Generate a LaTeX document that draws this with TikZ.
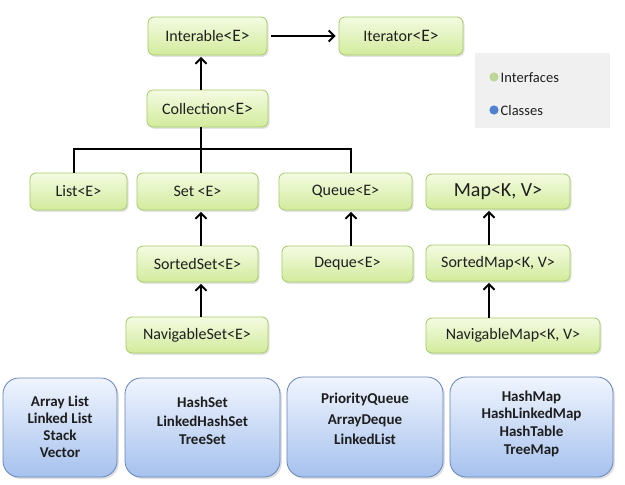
\documentclass[tikz,border=0pt]{standalone}
\usepackage{fontspec}
\setmainfont{Carlito}
\usetikzlibrary{arrows.meta,shadows}
\definecolor{ifTop}{HTML}{F4FBE2}
\definecolor{ifBot}{HTML}{D2EB9C}
\definecolor{ifBorder}{HTML}{A3CB66}
\definecolor{clTop}{HTML}{F0F5FE}
\definecolor{clBot}{HTML}{A6C1EE}
\definecolor{clBorder}{HTML}{6585BD}
\definecolor{legBg}{HTML}{F0F0F0}
\definecolor{dotGreen}{HTML}{BDD796}
\definecolor{dotBlue}{HTML}{4F81D0}
\definecolor{txt}{HTML}{1E1E1E}
\tikzset{
  iface/.style={draw=ifBorder, line width=0.8pt, rounded corners=6pt,
    top color=ifTop, bottom color=ifBot, inner sep=0pt, text=txt,
    font=\fontsize{16}{18}\selectfont,
    drop shadow={opacity=0.22, shadow xshift=1.5pt, shadow yshift=-1.8pt}},
  cls/.style={draw=clBorder, line width=0.8pt, rounded corners=16pt,
    top color=clTop, bottom color=clBot, inner sep=0pt,
    drop shadow={opacity=0.25, shadow xshift=1.8pt, shadow yshift=-2pt}},
  clstext/.style={inner sep=0pt, text=txt, align=center},
  conn/.style={line width=2.3pt, draw=black, line join=miter},
  arr/.style={conn, -{Straight Barb[length=5.5pt,width=11pt,line width=2pt]}},
  legtxt/.style={anchor=west, inner sep=0pt, text=txt, font=\fontsize{14.5}{16}\selectfont}
}
\newcommand{\bigE}{{\fontsize{17.5}{20}\selectfont <E>}}
\newcommand{\clsfont}[1]{\bfseries\fontsize{15}{#1}\selectfont}
\begin{document}
\begin{tikzpicture}[x=1pt,y=-1pt]
\useasboundingbox (0,0) rectangle (625,485);
\fill[white] (0,0) rectangle (625,485);

% legend
\node[fill=legBg, minimum width=135pt, minimum height=75pt, inner sep=0pt] (legend) at (542.5,90.5) {};
\fill[dotGreen] (494,77) circle (4.6pt);
\fill[dotBlue] (494,110) circle (4.6pt);
\node[legtxt] (lint) at (500.5,78) {Interfaces};
\node[legtxt] (lcls) at (500.5,111) {Classes};

% interfaces
\node[iface, minimum width=119pt, minimum height=38pt] (inter) at (207.5,36) {Interable\bigE};
\node[iface, minimum width=124pt, minimum height=38pt] (iter) at (401,36) {Iterator\bigE};
\node[iface, minimum width=121pt, minimum height=37pt] (coll) at (207.5,108.5) {Collection\bigE};
\node[iface, minimum width=97pt, minimum height=37pt] (list) at (78.5,191.5) {List<E>};
\node[iface, minimum width=121pt, minimum height=37pt] (set) at (197.5,191.5) {Set <E>};
\node[iface, minimum width=133pt, minimum height=37pt] (queue) at (345.5,191.5) {Queue<E>};
\node[iface, minimum width=144pt, minimum height=35pt] (map) at (498,191.5) {\fontsize{20}{22}\selectfont Map<K, V>};
\node[iface, minimum width=121pt, minimum height=36pt] (sset) at (197.5,264) {SortedSet<E>};
\node[iface, minimum width=131pt, minimum height=36pt] (deque) at (347.5,264) {Deque<E>};
\node[iface, minimum width=144pt, minimum height=36pt] (smap) at (498,263) {SortedMap<K, V>};
\node[iface, minimum width=142pt, minimum height=36pt] (nset) at (197,335) {NavigableSet<E>};
\node[iface, minimum width=174pt, minimum height=35pt] (nmap) at (513,335.5) {NavigableMap<K, V>};

% classes
\node[cls, minimum width=114pt, minimum height=99pt] (c1) at (60,427.5) {};
\node[cls, minimum width=155pt, minimum height=99pt] (c2) at (202.5,427.5) {};
\node[cls, minimum width=156pt, minimum height=100pt] (c3) at (365,427) {};
\node[cls, minimum width=163pt, minimum height=100pt] (c4) at (531.5,427) {};
\node[clstext, font=\clsfont{17}] (c1t) at ([yshift=1pt]c1.center) {Array List\\Linked List\\Stack\\Vector};
\node[clstext, font=\clsfont{18.5}] (c2t) at ([yshift=6.5pt]c2.center) {HashSet\\LinkedHashSet\\TreeSet};
\node[clstext, font=\clsfont{20.5}] (c3t) at ([yshift=8pt]c3.center) {PriorityQueue\\ArrayDeque\\LinkedList};
\node[clstext, font=\clsfont{17.7}] (c4t) at ([yshift=3.5pt]c4.center) {HashMap\\HashLinkedMap\\HashTable\\TreeMap};

% guide coordinates
\coordinate (tr) at (201,0);
\coordinate (lx) at (74,0);
\coordinate (qx) at (351,0);
\coordinate (mx) at (489,0);
\coordinate (bus) at (0,149);

% connectors
\draw[arr, shorten <=4pt, shorten >=3pt] (inter.east) -- (iter.west);
\draw[arr, shorten >=1.5pt] (coll.north -| tr) -- (inter.south -| tr);
\draw[conn] (coll.south -| tr) -- (set.north -| tr);
\draw[conn] (list.north -| lx) |- (bus -| qx) -- (queue.north -| qx);
\draw[arr, shorten >=1.5pt] (sset.north -| tr) -- (set.south -| tr);
\draw[arr, shorten >=1.5pt] (nset.north -| tr) -- (sset.south -| tr);
\draw[arr, shorten >=1.5pt] (deque.north -| qx) -- (queue.south -| qx);
\draw[arr, shorten >=1.5pt] (smap.north -| mx) -- (map.south -| mx);
\draw[arr, shorten >=1.5pt] (nmap.north -| mx) -- (smap.south -| mx);
\end{tikzpicture}
\end{document}
